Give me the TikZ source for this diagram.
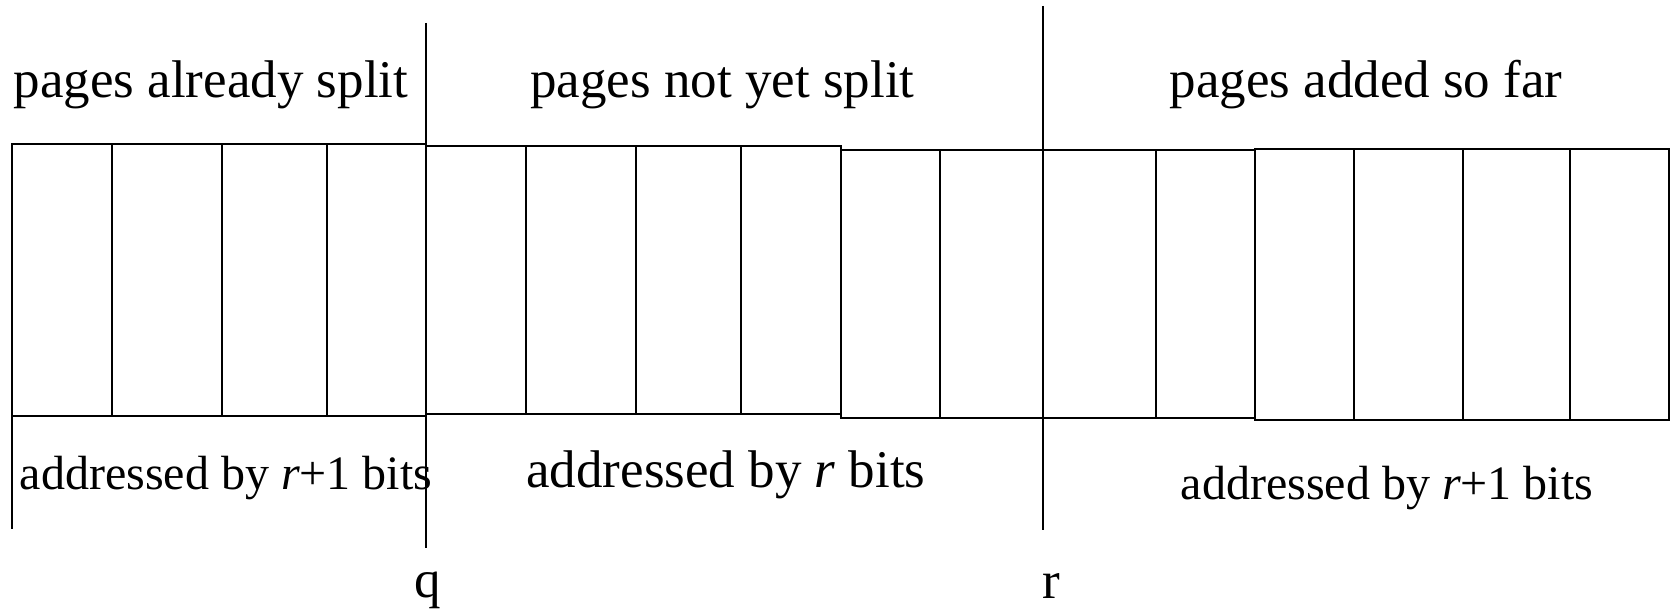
\documentclass[tikz,border=0pt]{standalone}
\usepackage{fontspec}
\setmainfont{Liberation Serif}
\begin{document}
\begin{tikzpicture}[x=0.5pt,y=-0.5pt,
  edge/.style={line width=1pt},
  bigtext/.style={font=\fontsize{26.5pt}{30pt}\selectfont, inner sep=0pt, anchor=base},
  smalltext/.style={font=\fontsize{24pt}{28pt}\selectfont, inner sep=0pt, anchor=base}]
\useasboundingbox (0,0) rectangle (1672,614);

% pages already split
\draw[edge] (12,144) rectangle (426,416);
\foreach \x in {112,222,327} \draw[edge] (\x,144) -- (\x,416);
% pages not yet split (before r)
\draw[edge] (426,146.5) rectangle (841,414);
\foreach \x in {526,635.5,741} \draw[edge] (\x,146.5) -- (\x,414);
% pages not yet split (up to r) and first added pages
\draw[edge] (841,150.5) rectangle (1255,418);
\foreach \x in {939.5,1156} \draw[edge] (\x,150.5) -- (\x,418);
% pages added so far
\draw[edge] (1255,149) rectangle (1669,420);
\foreach \x in {1354,1463,1570} \draw[edge] (\x,149) -- (\x,420);

% boundaries
\coordinate (lefttop) at (12,144);
\coordinate (leftbot) at (12,529);
\draw[edge] (lefttop) -- (leftbot);
\coordinate (qtop) at (426,23);
\coordinate (qbot) at (426,548);
\draw[edge] (qtop) -- (qbot);
\coordinate (rtop) at (1043,6);
\coordinate (rbot) at (1043,530);
\draw[edge] (rtop) -- (rbot);

% labels
\node[bigtext] (split) at (211,98) {pages already split};
\node[bigtext] (notyet) at (722.5,98) {pages not yet split};
\node[bigtext] (added) at (1366,98) {pages added so far};
\node[smalltext] (addrA) at (226,490) {addressed by \textit{r}+1 bits};
\node[bigtext] (addrB) at (726,488) {addressed by \textit{r} bits};
\node[smalltext] (addrC) at (1387,500) {addressed by \textit{r}+1 bits};
\node[bigtext] (qlabel) at (428,598) {q};
\node[bigtext] (rlabel) at (1051,599) {r};
\end{tikzpicture}
\end{document}
